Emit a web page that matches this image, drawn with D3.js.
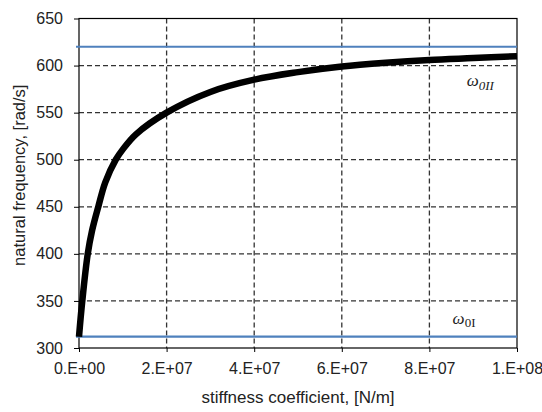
<!DOCTYPE html>
<html>
<head>
<meta charset="utf-8">
<script src="https://cdn.jsdelivr.net/npm/d3@7"></script>
<style>
  body { margin: 0; background: #fff; }
  text { font-family: "Liberation Sans", Arial, sans-serif; fill: #222; }
  .grid line { stroke: #333; stroke-dasharray: 5,3; stroke-width: 1.3; }
  .axis path, .axis line { stroke: #000; }
  .sym { font-family: "Liberation Serif", "Times New Roman", serif; font-style: italic; }
</style>
</head>
<body>
<svg id="chart" width="542" height="412"></svg>
<script>
// stiffness coefficient [N/m]
var stiffness = [0, 0.075e7, 0.2e7, 0.3e7, 0.44e7, 0.6e7, 0.84e7, 1.0e7, 1.3e7, 2.0e7, 3.0e7,
                 4.0e7, 5.0e7, 6.0e7, 7.0e7, 8.0e7, 9.0e7, 1.0e8];
// natural frequency [rad/s]
var frequency = [312, 350, 400, 425, 450, 476, 500, 511, 527, 550, 572,
                 585, 593, 599, 603, 606, 608, 610];
var omega0I = 312;
var omega0II = 620;
var xTicks = [0, 2e7, 4e7, 6e7, 8e7, 1e8];
var xTickLabels = ["0.E+00", "2.E+07", "4.E+07", "6.E+07", "8.E+07", "1.E+08"];
var yTicks = [300, 350, 400, 450, 500, 550, 600, 650];

var margin = {top: 18.5, right: 25, bottom: 64, left: 79};
var width = 542 - margin.left - margin.right;
var height = 412 - margin.top - margin.bottom;

var svg = d3.select("#chart");
var g = svg.append("g").attr("transform", "translate(" + margin.left + "," + margin.top + ")");

var x = d3.scaleLinear().domain([0, 1e8]).range([0, width]);
var y = d3.scaleLinear().domain([300, 650]).range([height, 0]);

// dashed grid
g.append("g").attr("class", "grid")
  .selectAll("line").data(yTicks.slice(1, -1)).enter().append("line")
  .attr("x1", 0).attr("x2", width)
  .attr("y1", function(d) { return y(d); }).attr("y2", function(d) { return y(d); });
g.append("g").attr("class", "grid")
  .selectAll("line").data(xTicks.slice(1, -1)).enter().append("line")
  .attr("y1", 0).attr("y2", height)
  .attr("x1", function(d) { return x(d); }).attr("x2", function(d) { return x(d); });

// border
g.append("rect").attr("width", width).attr("height", height)
  .attr("fill", "none").attr("stroke", "#000").attr("stroke-width", 1.2);

// axes
var xAxis = d3.axisBottom(x).tickValues(xTicks).tickSize(4).tickPadding(11)
  .tickFormat(function(d, i) { return xTickLabels[i]; });
var yAxis = d3.axisLeft(y).tickValues(yTicks).tickSize(5).tickPadding(11);

g.append("g").attr("class", "axis").attr("transform", "translate(0," + height + ")")
  .call(xAxis).call(function(s) { s.select(".domain").remove(); })
  .selectAll("text").style("font-size", "16px").attr("fill", "#222");
g.append("g").attr("class", "axis")
  .call(yAxis).call(function(s) { s.select(".domain").remove(); })
  .selectAll("text").style("font-size", "16px").attr("fill", "#222");

// reference lines
[omega0II, omega0I].forEach(function(v) {
  g.append("line")
    .attr("x1", -3).attr("x2", width)
    .attr("y1", y(v)).attr("y2", y(v))
    .attr("stroke", "#4f81bd").attr("stroke-width", 2.2);
});

// curve
var pts = stiffness.map(function(k, i) { return [k, frequency[i]]; });
var line = d3.line()
  .x(function(d) { return x(d[0]); })
  .y(function(d) { return y(d[1]); })
  .curve(d3.curveCatmullRom.alpha(0.5));
g.append("path").datum(pts)
  .attr("d", line)
  .attr("fill", "none").attr("stroke", "#000").attr("stroke-width", 6.5)
  .attr("stroke-linejoin", "round");

// labels for omega lines
var l1 = g.append("text").attr("class", "sym").attr("x", x(0.885e8)).attr("y", y(578))
  .style("font-size", "17px");
l1.append("tspan").text("\u03c9");
l1.append("tspan").attr("dy", 4).style("font-size", "13px").text("0II");

var l2 = g.append("text").attr("class", "sym").attr("x", x(0.853e8)).attr("y", y(325))
  .style("font-size", "17px");
l2.append("tspan").text("\u03c9");
l2.append("tspan").attr("dy", 3).style("font-size", "13px").style("font-style", "normal").text("0I");

// axis titles
svg.append("text")
  .attr("x", margin.left + width / 2).attr("y", 403)
  .attr("text-anchor", "middle").style("font-size", "17px")
  .text("stiffness coefficient, [N/m]");
svg.append("text")
  .attr("transform", "translate(25," + (margin.top + height / 2 - 8) + ") rotate(-90)")
  .attr("text-anchor", "middle").style("font-size", "16.5px")
  .text("natural frequency, [rad/s]");
</script>
</body>
</html>
